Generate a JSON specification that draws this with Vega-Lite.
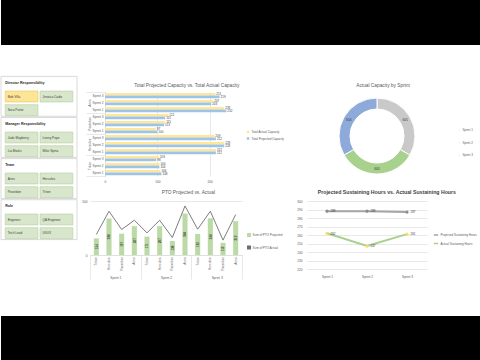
{
 "$schema": "https://vega.github.io/schema/vega-lite/v6.json",
 "background": "white",
 "padding": 0,
 "spacing": 0,
 "resolve": {"scale": {"color": "independent", "fill": "independent", "stroke": "independent", "x": "independent", "y": "independent"}, "legend": {"color": "independent", "fill": "independent", "stroke": "independent"}},
 "config": {
  "font": "Liberation Sans",
  "view": {"stroke": null},
  "axis": {"labelColor": "#595959", "labelFontSize": 3.2, "gridColor": "#d9d9d9", "gridWidth": 0.6, "domainColor": "#d9d9d9", "domainWidth": 0.6, "ticks": false, "domain": false, "titleFontSize": 4, "labelOverlap": false, "labelFlush": false},
  "legend": {"labelFontSize": 3, "labelColor": "#595959", "symbolSize": 6, "rowPadding": 2.5, "labelOffset": 1.5},
  "title": {"fontSize": 4.8, "fontWeight": "normal", "color": "#595959", "offset": 5, "frame": "bounds"}
 },
 "datasets": {
  "sections": [{"section": "Director Responsibility"}, {"section": "Manager Responsibility"}, {"section": "Team"}, {"section": "Role"}],
  "slicer": [
   {"slot": "D0", "col": "1", "label": "Director Responsibility", "kind": "header", "state": "none"},
   {"slot": "D1", "col": "1", "label": "Bob Villa", "kind": "button", "state": "selected"},
   {"slot": "D1", "col": "2", "label": "Jessica Cadis", "kind": "button", "state": "available"},
   {"slot": "D2", "col": "1", "label": "Sara Ponte", "kind": "button", "state": "available"},
   {"slot": "M0", "col": "1", "label": "Manager Responsibility", "kind": "header", "state": "none"},
   {"slot": "M1", "col": "1", "label": "Jude Mayberry", "kind": "button", "state": "available"},
   {"slot": "M1", "col": "2", "label": "Lenny Pope", "kind": "button", "state": "available"},
   {"slot": "M2", "col": "1", "label": "Lia Marks", "kind": "button", "state": "available"},
   {"slot": "M2", "col": "2", "label": "Mike Spina", "kind": "button", "state": "available"},
   {"slot": "T0", "col": "1", "label": "Team", "kind": "header", "state": "none"},
   {"slot": "T1", "col": "1", "label": "Aries", "kind": "button", "state": "available"},
   {"slot": "T1", "col": "2", "label": "Hercules", "kind": "button", "state": "available"},
   {"slot": "T2", "col": "1", "label": "Poseidon", "kind": "button", "state": "available"},
   {"slot": "T2", "col": "2", "label": "Triton", "kind": "button", "state": "available"},
   {"slot": "R0", "col": "1", "label": "Role", "kind": "header", "state": "none"},
   {"slot": "R1", "col": "1", "label": "Engineer", "kind": "button", "state": "available"},
   {"slot": "R1", "col": "2", "label": "QA Engineer", "kind": "button", "state": "available"},
   {"slot": "R2", "col": "1", "label": "Tech Lead", "kind": "button", "state": "available"},
   {"slot": "R2", "col": "2", "label": "UI/UX", "kind": "button", "state": "available"}
  ],
  "cap": [
   {"team": "Aries", "key": "Aries|Sprint 3", "measure": "Total Actual Capacity", "value": 211},
   {"team": "Aries", "key": "Aries|Sprint 3", "measure": "Total Projected Capacity", "value": 219},
   {"team": "Aries", "key": "Aries|Sprint 2", "measure": "Total Actual Capacity", "value": 207},
   {"team": "Aries", "key": "Aries|Sprint 2", "measure": "Total Projected Capacity", "value": 203},
   {"team": "Aries", "key": "Aries|Sprint 1", "measure": "Total Actual Capacity", "value": 228},
   {"team": "Aries", "key": "Aries|Sprint 1", "measure": "Total Projected Capacity", "value": 232},
   {"team": "Poseidon", "key": "Poseidon|Sprint 3", "measure": "Total Actual Capacity", "value": 121},
   {"team": "Poseidon", "key": "Poseidon|Sprint 3", "measure": "Total Projected Capacity", "value": 115},
   {"team": "Poseidon", "key": "Poseidon|Sprint 2", "measure": "Total Actual Capacity", "value": 115},
   {"team": "Poseidon", "key": "Poseidon|Sprint 2", "measure": "Total Projected Capacity", "value": 113},
   {"team": "Poseidon", "key": "Poseidon|Sprint 1", "measure": "Total Actual Capacity", "value": 97},
   {"team": "Poseidon", "key": "Poseidon|Sprint 1", "measure": "Total Projected Capacity", "value": 100},
   {"team": "Hercules", "key": "Hercules|Sprint 3", "measure": "Total Actual Capacity", "value": 209},
   {"team": "Hercules", "key": "Hercules|Sprint 3", "measure": "Total Projected Capacity", "value": 212},
   {"team": "Hercules", "key": "Hercules|Sprint 2", "measure": "Total Actual Capacity", "value": 228},
   {"team": "Hercules", "key": "Hercules|Sprint 2", "measure": "Total Projected Capacity", "value": 228},
   {"team": "Hercules", "key": "Hercules|Sprint 1", "measure": "Total Actual Capacity", "value": 212},
   {"team": "Hercules", "key": "Hercules|Sprint 1", "measure": "Total Projected Capacity", "value": 212},
   {"team": "Triton", "key": "Triton|Sprint 3", "measure": "Total Actual Capacity", "value": 103},
   {"team": "Triton", "key": "Triton|Sprint 3", "measure": "Total Projected Capacity", "value": 98},
   {"team": "Triton", "key": "Triton|Sprint 2", "measure": "Total Actual Capacity", "value": 104},
   {"team": "Triton", "key": "Triton|Sprint 2", "measure": "Total Projected Capacity", "value": 104},
   {"team": "Triton", "key": "Triton|Sprint 1", "measure": "Total Actual Capacity", "value": 106},
   {"team": "Triton", "key": "Triton|Sprint 1", "measure": "Total Projected Capacity", "value": 108}
  ],
  "donut": [
   {"sprint": "Sprint 1", "value": 605},
   {"sprint": "Sprint 2", "value": 603},
   {"sprint": "Sprint 3", "value": 604}
  ],
  "pto": [
   {"sprint": "Sprint 1", "key": "Sprint 1|Triton", "projected": 154, "actual": 190},
   {"sprint": "Sprint 1", "key": "Sprint 1|Hercules", "projected": 338, "actual": 405},
   {"sprint": "Sprint 1", "key": "Sprint 1|Poseidon", "projected": 197, "actual": 236},
   {"sprint": "Sprint 1", "key": "Sprint 1|Aries", "projected": 267, "actual": 322},
   {"sprint": "Sprint 2", "key": "Sprint 2|Triton", "projected": 171, "actual": 205},
   {"sprint": "Sprint 2", "key": "Sprint 2|Hercules", "projected": 267, "actual": 322},
   {"sprint": "Sprint 2", "key": "Sprint 2|Poseidon", "projected": 130, "actual": 162},
   {"sprint": "Sprint 2", "key": "Sprint 2|Aries", "projected": 384, "actual": 454},
   {"sprint": "Sprint 3", "key": "Sprint 3|Triton", "projected": 195, "actual": 239},
   {"sprint": "Sprint 3", "key": "Sprint 3|Hercules", "projected": 340, "actual": 405},
   {"sprint": "Sprint 3", "key": "Sprint 3|Poseidon", "projected": 113, "actual": 138},
   {"sprint": "Sprint 3", "key": "Sprint 3|Aries", "projected": 313, "actual": 374}
  ],
  "sust": [
   {"sprint": "Sprint 1", "series": "Projected Sustaining Hours", "value": 288},
   {"sprint": "Sprint 2", "series": "Projected Sustaining Hours", "value": 288},
   {"sprint": "Sprint 3", "series": "Projected Sustaining Hours", "value": 287},
   {"sprint": "Sprint 1", "series": "Actual Sustaining Hours", "value": 262},
   {"sprint": "Sprint 2", "series": "Actual Sustaining Hours", "value": 247},
   {"sprint": "Sprint 3", "series": "Actual Sustaining Hours", "value": 261}
  ]
 },
 "vconcat": [
  {"width": 480, "height": 45, "data": {"values": [{}]}, "view": {"fill": "black", "stroke": null}, "mark": "text", "encoding": {"text": {"value": ""}}},
  {"width": 480, "height": 25, "data": {"values": [{}]}, "mark": "text", "encoding": {"text": {"value": ""}}},
  {
   "spacing": 1,
   "resolve": {"scale": {"color": "independent", "fill": "independent", "stroke": "independent", "x": "independent", "y": "independent"}, "legend": {"color": "independent", "fill": "independent", "stroke": "independent"}},
   "hconcat": [
    {
     "width": 76, "height": 164,
     "layer": [
      {
       "data": {"name": "sections"},
       "mark": {"type": "rect", "fill": "white", "stroke": "#d0d0d0", "strokeWidth": 0.8},
       "encoding": {
        "y": {"field": "section", "type": "nominal", "scale": {"domain": ["Director Responsibility", "Manager Responsibility", "Team", "Role"], "paddingInner": 0.03, "paddingOuter": 0.01}, "axis": null}
       }
      },
      {
       "data": {"name": "slicer"},
       "layer": [
        {
         "transform": [{"filter": "datum.kind == 'button'"}],
         "mark": {"type": "rect", "strokeWidth": 0.6},
         "encoding": {
          "x": {"field": "col", "type": "nominal", "scale": {"type": "band", "domain": ["1", "2"], "paddingInner": 0.06, "paddingOuter": 0.12}, "axis": null},
          "y": {"field": "slot", "type": "nominal", "scale": {"type": "band", "domain": ["D0", "D1", "D2", "M0", "M1", "M2", "T0", "T1", "T2", "R0", "R1", "R2"], "paddingInner": 0.2, "paddingOuter": 0.1}, "axis": null},
          "fill": {"field": "state", "type": "nominal", "scale": {"domain": ["selected", "available"], "range": ["#fde598", "#d8e7cb"]}, "legend": null},
          "stroke": {"field": "state", "type": "nominal", "scale": {"domain": ["selected", "available"], "range": ["#eec35a", "#b6cf9f"]}, "legend": null}
         }
        },
        {
         "transform": [{"filter": "datum.kind == 'button'"}],
         "mark": {"type": "text", "align": "left", "baseline": "middle", "dx": 2.5, "fontSize": 3.2, "fill": "#404040"},
         "encoding": {
          "x": {"field": "col", "type": "nominal", "bandPosition": 0},
          "y": {"field": "slot", "type": "nominal", "bandPosition": 0.5},
          "text": {"field": "label", "type": "nominal"}
         }
        },
        {
         "transform": [{"filter": "datum.kind == 'header'"}],
         "mark": {"type": "text", "align": "left", "baseline": "middle", "dx": 0, "fontSize": 3.6, "fontWeight": "bold", "fill": "#262626"},
         "encoding": {
          "x": {"field": "col", "type": "nominal", "bandPosition": 0},
          "y": {"field": "slot", "type": "nominal", "bandPosition": 0.5},
          "text": {"field": "label", "type": "nominal"}
         }
        }
       ]
      }
     ],
     "resolve": {"scale": {"y": "independent"}}
    },
    {
     "spacing": 0,
     "resolve": {"scale": {"color": "independent", "fill": "independent", "stroke": "independent", "x": "independent", "y": "independent"}, "legend": {"color": "independent", "fill": "independent", "stroke": "independent"}},
     "vconcat": [
      {"width": 1, "height": 1, "data": {"values": [{}]}, "mark": "text", "encoding": {"text": {"value": ""}}},
      {
       "spacing": 5,
       "resolve": {"scale": {"color": "independent", "fill": "independent", "stroke": "independent", "x": "independent", "y": "independent"}, "legend": {"color": "independent", "fill": "independent", "stroke": "independent"}},
       "hconcat": [
        {"width": 1, "height": 1, "data": {"values": [{}]}, "mark": "text", "encoding": {"text": {"value": ""}}},
        {
         "width": 136, "height": 84,
         "title": {"text": "Total Projected Capacity vs. Total Actual Capacity", "offset": 4},
         "data": {"name": "cap"},
         "layer": [
          {
           "layer": [
            {
             "mark": {"type": "bar"},
             "encoding": {
              "y": {"field": "key", "type": "nominal", "scale": {"domain": ["Aries|Sprint 3", "Aries|Sprint 2", "Aries|Sprint 1", "Poseidon|Sprint 3", "Poseidon|Sprint 2", "Poseidon|Sprint 1", "Hercules|Sprint 3", "Hercules|Sprint 2", "Hercules|Sprint 1", "Triton|Sprint 3", "Triton|Sprint 2", "Triton|Sprint 1"], "paddingInner": 0.25, "paddingOuter": 0.125}, "axis": {"labelExpr": "split(datum.label, '|')[1]", "labelPadding": 2, "domain": true, "title": null}},
              "yOffset": {"field": "measure", "type": "nominal", "scale": {"domain": ["Total Actual Capacity", "Total Projected Capacity"]}},
              "x": {"field": "value", "type": "quantitative", "scale": {"domain": [0, 250]}, "axis": {"values": [0, 50, 100, 150, 200, 250], "labelPadding": 3, "labelOverlap": false, "labelFlush": false, "title": " ", "titleFontSize": 4.5, "titlePadding": 1.5, "titleColor": "white"}},
              "color": {"field": "measure", "type": "nominal", "scale": {"domain": ["Total Actual Capacity", "Total Projected Capacity"], "range": ["#ffe699", "#9dc3e6"]}, "legend": {"orient": "none", "legendX": 137, "legendY": 34, "padding": 4, "title": null, "symbolType": "square"}}
             }
            },
            {
             "mark": {"type": "text", "align": "left", "baseline": "middle", "dx": 1, "fontSize": 3, "fill": "#404040"},
             "encoding": {
              "y": {"field": "key", "type": "nominal"},
              "yOffset": {"field": "measure", "type": "nominal"},
              "x": {"field": "value", "type": "quantitative"},
              "text": {"field": "value", "type": "quantitative"}
             }
            }
           ]
          },
          {
           "mark": {"type": "text", "opacity": 0},
           "encoding": {
            "y": {"field": "team", "type": "nominal", "scale": {"type": "band", "domain": ["Aries", "Poseidon", "Hercules", "Triton"], "paddingInner": 0, "paddingOuter": 0}, "axis": {"orient": "left", "ticks": true, "tickBand": "extent", "tickSize": 19, "tickColor": "#d9d9d9", "tickWidth": 0.6, "labelAngle": -90, "labelAlign": "center", "labelBaseline": "middle", "labelPadding": -3, "title": null}},
            "text": {"value": ""}
           }
          }
         ],
         "resolve": {"scale": {"y": "independent"}}
        },
        {
         "width": 168, "height": 88,
         "title": {"text": "Actual Capacity by Sprint", "offset": 4},
         "data": {"name": "donut"},
         "encoding": {
          "theta": {"field": "value", "type": "quantitative", "stack": true},
          "order": {"field": "sprint", "type": "ordinal"}
         },
         "layer": [
          {
           "mark": {"type": "arc", "innerRadius": 27, "outerRadius": 38, "stroke": "white", "strokeWidth": 1},
           "encoding": {
            "color": {"field": "sprint", "type": "nominal", "scale": {"domain": ["Sprint 1", "Sprint 2", "Sprint 3"], "range": ["#c9c9c9", "#a9d18e", "#8eaadb"]}, "legend": {"orient": "none", "legendX": 164, "legendY": 36, "title": null, "symbolType": "square", "symbolSize": 5}}
           }
          },
          {
           "mark": {"type": "text", "radius": 32.5, "fontSize": 3.3, "fill": "#404040"},
           "encoding": {
            "detail": {"field": "sprint", "type": "nominal"},
            "text": {"field": "value", "type": "quantitative"}
           }
          }
         ]
        }
       ]
      },
      {
       "spacing": 1,
       "resolve": {"scale": {"color": "independent", "fill": "independent", "stroke": "independent", "x": "independent", "y": "independent"}, "legend": {"color": "independent", "fill": "independent", "stroke": "independent"}},
       "hconcat": [
        {"width": 1, "height": 1, "data": {"values": [{}]}, "mark": "text", "encoding": {"text": {"value": ""}}},
        {
         "width": 152, "height": 54,
         "title": {"text": "PTO Projected vs. Actual", "offset": 4},
         "data": {"name": "pto"},
         "layer": [
          {
           "layer": [
            {
             "layer": [
              {
               "mark": {"type": "bar"},
               "encoding": {
                "x": {"field": "key", "type": "nominal", "scale": {"domain": ["Sprint 1|Triton", "Sprint 1|Hercules", "Sprint 1|Poseidon", "Sprint 1|Aries", "Sprint 2|Triton", "Sprint 2|Hercules", "Sprint 2|Poseidon", "Sprint 2|Aries", "Sprint 3|Triton", "Sprint 3|Hercules", "Sprint 3|Poseidon", "Sprint 3|Aries"], "paddingInner": 0.6, "paddingOuter": 0.3}, "axis": {"orient": "bottom", "labelExpr": "split(datum.label, '|')[1]", "labelAngle": -90, "labelAlign": "right", "labelBaseline": "middle", "labelPadding": 2, "domain": true, "title": null}},
                "y": {"field": "projected", "type": "quantitative", "scale": {"domain": [0, 500]}, "axis": {"values": [0, 50, 100, 150, 200, 250, 300, 350, 400, 450, 500], "labelPadding": 3, "labelOverlap": false, "labelFlush": false, "title": null}},
                "color": {"datum": "Sum of PTO Projected", "type": "nominal", "scale": {"domain": ["Sum of PTO Projected", "Sum of PTO Actual"], "range": ["#bcdaa6", "#6e6e6e"]}, "legend": {"orient": "none", "legendX": 145, "legendY": 20, "padding": 12, "title": null}}
               }
              },
              {
               "mark": {"type": "line", "strokeWidth": 0.9},
               "encoding": {
                "x": {"field": "key", "type": "nominal"},
                "y": {"field": "actual", "type": "quantitative"},
                "color": {"datum": "Sum of PTO Actual", "type": "nominal"}
               }
              }
             ]
            },
            {
             "mark": {"type": "text", "angle": 270, "fontSize": 3, "fontWeight": "bold", "fill": "#3a3a3a", "align": "center", "baseline": "middle"},
             "encoding": {
              "x": {"field": "key", "type": "nominal"},
              "y": {"field": "projected", "type": "quantitative", "scale": {"domain": [0, 1000]}, "axis": null},
              "text": {"field": "projected", "type": "quantitative"}
             }
            }
           ],
           "resolve": {"scale": {"y": "independent"}}
          },
          {
           "mark": {"type": "text", "opacity": 0},
           "encoding": {
            "x": {"field": "sprint", "type": "nominal", "scale": {"type": "band", "domain": ["Sprint 1", "Sprint 2", "Sprint 3"], "paddingInner": 0, "paddingOuter": 0}, "axis": {"orient": "bottom", "ticks": true, "tickBand": "extent", "tickSize": 24, "tickColor": "#d9d9d9", "tickWidth": 0.6, "labelAngle": 0, "labelBaseline": "top", "labelPadding": -4, "title": null}},
            "text": {"value": ""}
           }
          }
         ],
         "resolve": {"scale": {"x": "independent"}}
        },
        {
         "width": 120, "height": 68,
         "title": {"text": "Projected Sustaining Hours vs. Actual Sustaining Hours", "fontSize": 5.2, "fontWeight": "bold", "color": "#404040", "offset": 4},
         "data": {"name": "sust"},
         "encoding": {
          "x": {"field": "sprint", "type": "nominal", "axis": {"labelAngle": 0, "labelPadding": 5, "title": null}},
          "y": {"field": "value", "type": "quantitative", "scale": {"domain": [220, 300]}, "axis": {"values": [220, 230, 240, 250, 260, 270, 280, 290, 300], "labelPadding": 5, "labelOverlap": false, "labelFlush": false, "title": null}}
         },
         "layer": [
          {
           "mark": {"type": "line", "strokeWidth": 2},
           "encoding": {
            "color": {"field": "series", "type": "nominal", "scale": {"domain": ["Projected Sustaining Hours", "Actual Sustaining Hours"], "range": ["#a6a6a6", "#a9d18e"]}, "legend": {"orient": "none", "legendX": 126, "legendY": 31, "title": null, "symbolType": "stroke", "symbolStrokeWidth": 1.5, "symbolSize": 20}}
           }
          },
          {
           "mark": {"type": "point", "filled": true, "size": 10, "opacity": 1},
           "encoding": {
            "fill": {"field": "series", "type": "nominal", "scale": {"domain": ["Projected Sustaining Hours", "Actual Sustaining Hours"], "range": ["#8c8c8c", "#ffd966"]}, "legend": null}
           }
          },
          {
           "mark": {"type": "text", "align": "left", "baseline": "middle", "dx": 3.5, "fontSize": 3, "fill": "#404040"},
           "encoding": {"text": {"field": "value", "type": "quantitative"}}
          }
         ]
        }
       ]
      }
     ]
    }
   ]
  },
  {"width": 480, "height": 36, "data": {"values": [{}]}, "mark": "text", "encoding": {"text": {"value": ""}}},
  {"width": 480, "height": 45, "data": {"values": [{}]}, "view": {"fill": "black", "stroke": null}, "mark": "text", "encoding": {"text": {"value": ""}}}
 ]
}
